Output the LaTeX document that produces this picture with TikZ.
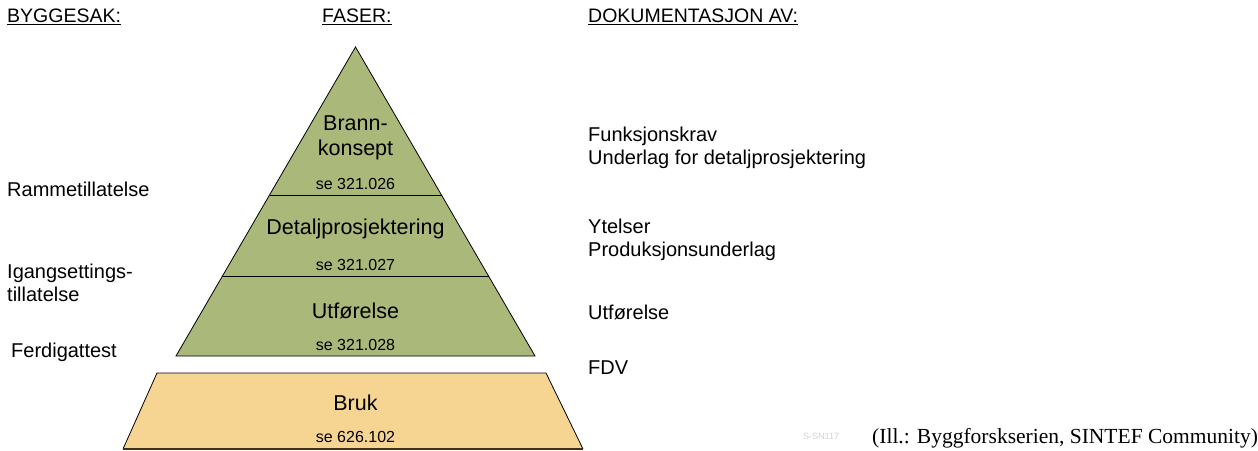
\documentclass[tikz,border=0pt]{standalone}
\usepackage{fontspec}
\setmainfont{Liberation Sans}
\newfontfamily\capfont{Liberation Serif}
\usetikzlibrary{positioning}
\definecolor{phasegreen}{RGB}{170,184,122}
\definecolor{usebeige}{RGB}{246,213,146}
\definecolor{usebrown}{RGB}{70,45,20}
\begin{document}
\begin{tikzpicture}[x=1pt,y=-1pt]
                \tikzstyle{every node}+=[inner sep=0pt]
                \tikzstyle{head}=[anchor=west,font=\fontsize{19.5}{22}\selectfont]
                \tikzstyle{side}=[anchor=west,align=left,font=\fontsize{20}{22.5}\selectfont]
                \tikzstyle{phase}=[align=center,font=\fontsize{21.5}{25}\selectfont]
                \tikzstyle{ref}=[font=\fontsize{16}{18}\selectfont]
                \useasboundingbox (0,0) rectangle (1258,450);
                % pyramid corners
                \coordinate (top) at (355.5,47);
                \coordinate (l1) at (269.5,195);  \coordinate (r1) at (441.5,195);
                \coordinate (l2) at (222.5,276);  \coordinate (r2) at (488.5,276);
                \coordinate (l3) at (176,356);    \coordinate (r3) at (535,356);
                \coordinate (bl) at (157,373);    \coordinate (br) at (546,373);
                \coordinate (bbl) at (123,449);   \coordinate (bbr) at (583,449);
                \fill [phasegreen] (top) -- (l3) -- (r3) -- cycle;
                \draw [black,line width=0.8pt] (top) -- (l3) -- (r3) -- cycle;
                \draw [black,line width=0.8pt] (l1) -- (r1);
                \draw [black,line width=0.8pt] (l2) -- (r2);
                \fill [usebeige] (bl) -- (br) -- (bbr) -- (bbl) -- cycle;
                \draw [black,line width=0.8pt] (bbl) -- (bl) -- (br) -- (bbr);
                \draw [usebrown,line width=2pt] (bbl) -- (bbr);
                % headings
                \node [head] (byggesak) at (7,17) {\underline{BYGGESAK:}};
                \node [head] (faser) at (322,17) {\underline{FASER:}};
                \node [head] (dok) at (588,17) {\underline{DOKUMENTASJON AV:}};
                % phases
                \node [phase] (brann) at (355.5,138) {Brann-\\konsept};
                \node [ref] (ref1) at (355.5,184) {se 321.026};
                \node [phase] (detalj) at (355.5,229) {Detaljprosjektering};
                \node [ref] (ref2) at (355.5,265) {se 321.027};
                \node [phase] (utf) at (355.5,311) {Utførelse};
                \node [ref] (ref3) at (355.5,345) {se 321.028};
                \node [phase] (bruk) at (355.5,403) {Bruk};
                \node [ref] (ref4) at (355.5,437) {se 626.102};
                % byggesak
                \node [side] (ramme) at (7,189) {Rammetillatelse};
                \node [side] (igang) at (7,283) {Igangsettings-\\tillatelse};
                \node [side] (ferdig) at (11,352) {Ferdigattest};
                % dokumentasjon
                \node [side] (funk) at (588,148) {Funksjonskrav\\Underlag for detaljprosjektering};
                \node [side] (ytelser) at (588,240) {Ytelser\\Produksjonsunderlag};
                \node [side] (utfdok) at (588,312) {Utførelse};
                \node [side] (fdv) at (588,368) {FDV};
                % credit
                \node [anchor=west,text=gray!35,font=\fontsize{9}{10}\selectfont] (mark) at (803,436) {S-SN117};
                \node [anchor=west,font=\capfont\fontsize{21.5}{24}\selectfont] (credit) at (872,438) {(Ill.: Byggforskserien, SINTEF Community)};
\end{tikzpicture}
\end{document}
